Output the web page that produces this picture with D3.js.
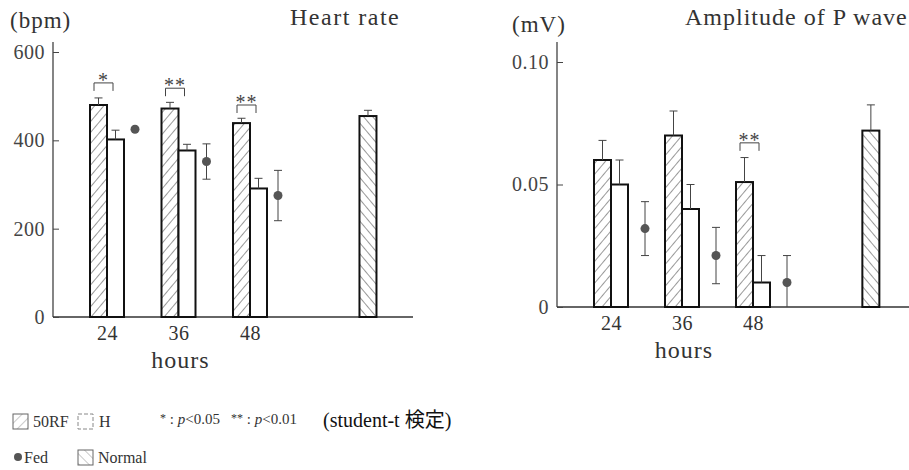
<!DOCTYPE html>
<html lang="ja">
<head>
<meta charset="utf-8">
<script src="https://d3js.org/d3.v7.min.js"></script>
<style>
  body { margin: 0; background: #fff; }
</style>
</head>
<body>
<script>
// ---- data ----
var hours = ["24", "36", "48"];

// heart rate (bpm)
var hrRF = [480, 472, 439], hrRFErr = [16, 14, 11];
var hrH = [402, 377, 291], hrHErr = [21, 14, 23];
var hrFed = [425, 352, 275], hrFedErr = [0, 40, 57];
var hrNormal = 455, hrNormalErr = 13;
var hrTicks = [0, 200, 400, 600];
var hrSig = [{i: 0, label: "*", v: 530}, {i: 1, label: "**", v: 518}, {i: 2, label: "**", v: 480}];

// amplitude of P wave (mV)
var pRF = [0.060, 0.070, 0.051], pRFErr = [0.008, 0.010, 0.010];
var pH = [0.050, 0.040, 0.010], pHErr = [0.010, 0.010, 0.011];
var pFed = [0.032, 0.021, 0.010], pFedErr = [0.011, 0.0115, 0.011];
var pNormal = 0.072, pNormalErr = 0.0105;
var pTicks = [0, 0.05, 0.10];
var pSig = [{i: 2, label: "**", v: 0.067}];

var width = 909, height = 470;
var serif = "'Liberation Serif', serif";
var svg = d3.select("body").append("svg").attr("width", width).attr("height", height);

// hatch patterns
var defs = svg.append("defs");
function hatch(id, angle, color, w) {
  var p = defs.append("pattern").attr("id", id).attr("patternUnits", "userSpaceOnUse")
    .attr("width", 7).attr("height", 7).attr("patternTransform", "rotate(" + angle + ")");
  p.append("rect").attr("width", 7).attr("height", 7).attr("fill", "#fff");
  p.append("line").attr("x1", 0).attr("y1", 0).attr("x2", 0).attr("y2", 7)
    .attr("stroke", color).attr("stroke-width", w);
}
hatch("rf", 40, "#333", 1);
hatch("nm", -40, "#333", 1);
hatch("rfL", 45, "#777", 0.8);
hatch("nmL", -45, "#777", 0.8);

function errBar(g, x, y1, y2, cap) {
  g.append("line").attr("x1", x).attr("x2", x).attr("y1", y1).attr("y2", y2)
    .attr("stroke", "#444").attr("stroke-width", 1);
  g.append("line").attr("x1", x - cap).attr("x2", x + cap).attr("y1", y2).attr("y2", y2)
    .attr("stroke", "#444").attr("stroke-width", 1);
}

function panel(o) {
  var g = svg.append("g");
  var x = d3.scaleLinear().domain([0, 2]).range(o.xr);
  var y = d3.scaleLinear().domain([0, o.ymax]).range([o.base, o.ytop]);
  var bw = 17;

  // axes
  g.append("line").attr("x1", o.axisX).attr("x2", o.axisX).attr("y1", o.base - o.axisLen).attr("y2", o.base)
    .attr("stroke", "#333").attr("stroke-width", 1.2);
  g.append("line").attr("x1", o.axisX).attr("x2", o.axisEnd).attr("y1", o.base).attr("y2", o.base)
    .attr("stroke", "#333").attr("stroke-width", 1.6);

  var ya = g.append("g").attr("transform", "translate(" + o.axisX + ",0)")
    .call(d3.axisLeft(y).tickValues(o.ticks).tickFormat(o.fmt).tickSizeInner(-6).tickSizeOuter(0).tickPadding(8));
  ya.select(".domain").remove();
  ya.selectAll("line").attr("stroke", "#444");
  ya.attr("font-size", 20).attr("font-family", serif);
  ya.selectAll("text").attr("fill", "#444").attr("letter-spacing", 0.5);

  var xa = g.append("g").attr("transform", "translate(0," + o.base + ")")
    .call(d3.axisBottom(x).tickValues([0, 1, 2]).tickFormat(function(i) { return hours[i]; }).tickSize(0).tickPadding(9));
  xa.select(".domain").remove();
  xa.attr("font-size", 20).attr("font-family", serif);
  xa.selectAll("text").attr("fill", "#333").attr("letter-spacing", 0.5);

  g.append("text").attr("x", x(1) + 2).attr("y", o.base + 51).attr("text-anchor", "middle")
    .attr("font-family", serif).attr("fill", "#333").attr("font-size", 24).attr("letter-spacing", 1)
    .text("hours");

  // 50RF bars
  g.selectAll(".rf").data(o.rf).join("rect").attr("class", "rf")
    .attr("x", function(d, i) { return x(i) - bw; }).attr("width", bw)
    .attr("y", function(d) { return y(d); }).attr("height", function(d) { return o.base - y(d); })
    .attr("fill", "url(#rf)").attr("stroke", "#111").attr("stroke-width", 2);
  o.rf.forEach(function(d, i) { errBar(g, x(i) - bw / 2, y(d), y(d + o.rfErr[i]), 4); });

  // H bars
  g.selectAll(".h").data(o.h).join("rect").attr("class", "h")
    .attr("x", function(d, i) { return x(i); }).attr("width", bw)
    .attr("y", function(d) { return y(d); }).attr("height", function(d) { return o.base - y(d); })
    .attr("fill", "#fff").attr("stroke", "#111").attr("stroke-width", 2);
  o.h.forEach(function(d, i) { errBar(g, x(i) + bw / 2, y(d), y(d + o.hErr[i]), 4); });

  // Fed points
  o.fed.forEach(function(d, i) {
    var cx = x(i) + o.fedOff;
    if (o.fedErr[i] > 0) {
      errBar(g, cx, y(d), y(d + o.fedErr[i]), 4);
      errBar(g, cx, y(d), y(Math.max(0, d - o.fedErr[i])), d - o.fedErr[i] > 0 ? 4 : 0);
    }
    g.append("circle").attr("cx", cx).attr("cy", y(d)).attr("r", 4.5).attr("fill", "#555");
  });

  // Normal bar
  var xn = x(o.normalPos);
  g.append("rect").attr("x", xn - bw / 2).attr("width", bw).attr("y", y(o.normal))
    .attr("height", o.base - y(o.normal)).attr("fill", "url(#nm)").attr("stroke", "#111").attr("stroke-width", 2);
  errBar(g, xn, y(o.normal), y(o.normal + o.normalErr), 4);

  // significance brackets
  o.sig.forEach(function(s) {
    var x0 = x(s.i) - 13, x1 = x(s.i) + 6, yy = y(s.v);
    g.append("path").attr("d", "M" + x0 + "," + (yy + 8) + "V" + yy + "H" + x1 + "V" + (yy + 8))
      .attr("fill", "none").attr("stroke", "#444").attr("stroke-width", 1);
    g.append("text").attr("x", (x0 + x1) / 2).attr("y", yy + 4).attr("text-anchor", "middle")
      .attr("font-family", serif).attr("font-size", 20).attr("letter-spacing", 1).attr("fill", "#444").text(s.label);
  });

  g.append("text").attr("x", o.unitX).attr("y", o.unitY).attr("font-family", serif)
    .attr("fill", "#333").attr("font-size", 23).attr("letter-spacing", 1).text(o.unit);
  g.append("text").attr("x", o.titleX).attr("y", 25).attr("font-family", serif)
    .attr("fill", "#333").attr("font-size", 24).attr("letter-spacing", o.titleSp).text(o.title);
}

panel({
  xr: [107, 250], ymax: 600, base: 317, ytop: 52, axisX: 53, axisLen: 275, axisEnd: 413,
  ticks: hrTicks, fmt: d3.format("d"),
  rf: hrRF, rfErr: hrRFErr, h: hrH, hErr: hrHErr, fed: hrFed, fedErr: hrFedErr, fedOff: 28,
  normal: hrNormal, normalErr: hrNormalErr, normalPos: 3.65, sig: hrSig,
  unit: "(bpm)", unitX: 10, unitY: 28, title: "Heart rate", titleX: 290, titleSp: 1.5
});

panel({
  xr: [611, 753], ymax: 0.10, base: 307, ytop: 62, axisX: 557, axisLen: 265, axisEnd: 909,
  ticks: pTicks, fmt: function(d) { return d === 0 ? "0" : d3.format(".2f")(d); },
  rf: pRF, rfErr: pRFErr, h: pH, hErr: pHErr, fed: pFed, fedErr: pFedErr, fedOff: 34,
  normal: pNormal, normalErr: pNormalErr, normalPos: 3.66, sig: pSig,
  unit: "(mV)", unitX: 512, unitY: 32, title: "Amplitude of P wave", titleX: 685, titleSp: 1
});

// legend
var lg = svg.append("g").attr("font-family", serif).attr("fill", "#333");
lg.append("rect").attr("x", 13).attr("y", 414).attr("width", 15).attr("height", 15)
  .attr("fill", "url(#rfL)").attr("stroke", "#666").attr("stroke-width", 1);
lg.append("text").attr("x", 33).attr("y", 427).attr("font-size", 16).text("50RF");
lg.append("rect").attr("x", 78).attr("y", 414).attr("width", 15).attr("height", 15)
  .attr("fill", "#fff").attr("stroke", "#888").attr("stroke-width", 1).attr("stroke-dasharray", "4,2");
lg.append("text").attr("x", 99).attr("y", 427).attr("font-size", 16).text("H");
lg.append("circle").attr("cx", 18).attr("cy", 457).attr("r", 4).attr("fill", "#555");
lg.append("text").attr("x", 24).attr("y", 463).attr("font-size", 16).text("Fed");
lg.append("rect").attr("x", 78).attr("y", 450).attr("width", 15).attr("height", 15)
  .attr("fill", "url(#nmL)").attr("stroke", "#666").attr("stroke-width", 1);
lg.append("text").attr("x", 98).attr("y", 463).attr("font-size", 16).text("Normal");

var p1 = lg.append("text").attr("x", 160).attr("y", 424).attr("font-size", 15);
p1.append("tspan").attr("font-size", 12).attr("dy", -2).text("*");
p1.append("tspan").attr("dy", 2).text(" : ");
p1.append("tspan").attr("font-style", "italic").text("p");
p1.append("tspan").text("<0.05");
var p2 = lg.append("text").attr("x", 231).attr("y", 424).attr("font-size", 15);
p2.append("tspan").attr("font-size", 12).attr("dy", -2).text("**");
p2.append("tspan").attr("dy", 2).text(" : ");
p2.append("tspan").attr("font-style", "italic").text("p");
p2.append("tspan").text("<0.01");

lg.append("text").attr("x", 323).attr("y", 427).attr("font-size", 20)
  .attr("font-family", "'Liberation Serif', 'Noto Sans CJK JP', serif").attr("fill", "#111")
  .text("(student-t 検定)");
</script>
</body>
</html>
